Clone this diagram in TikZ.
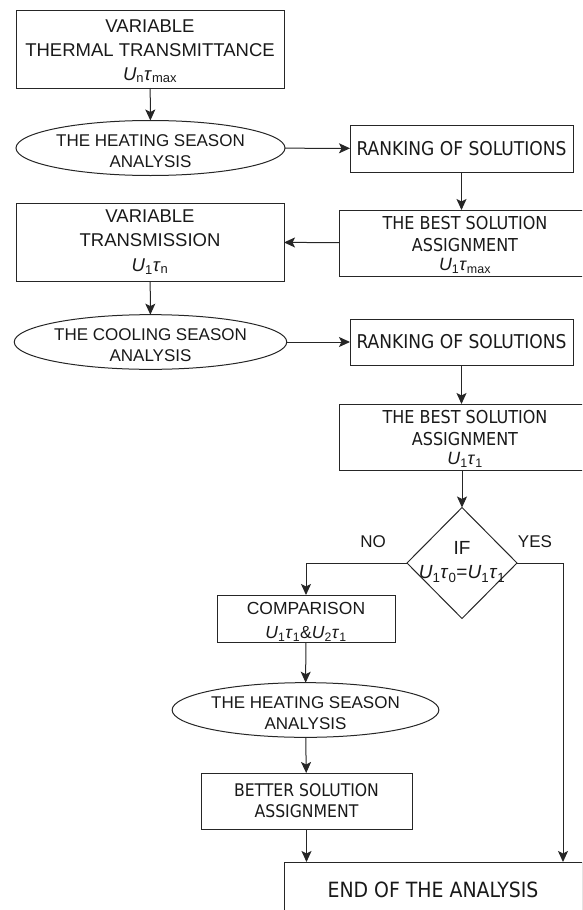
\documentclass[tikz,border=0pt]{standalone}
\usepackage{fontspec}
\setmainfont{Liberation Sans}
\newfontfamily\tah{DejaVu Sans Condensed}
\usetikzlibrary{shapes.geometric,arrows.meta,calc}
\newcommand{\ar}[2]{\fontsize{#1}{#2}\selectfont}
\newcommand{\iv}[1]{\textit{#1}}
\newcommand{\sbs}[1]{\textsubscript{#1}}
\newcommand{\lift}[1]{\rule{0pt}{#1}}
\begin{document}
\begin{tikzpicture}[x=1pt,y=-1pt,
  every node/.style={inner sep=0pt, outer sep=0pt, text=black!90},
  boxnode/.style={draw=black!85, line width=1pt, rectangle, align=center},
  ellnode/.style={draw=black!85, line width=1pt, ellipse, align=center},
  dianode/.style={draw=black!85, line width=1pt, diamond},
  conn/.style={draw=black!85, line width=1pt, -{Stealth[length=11pt,width=10pt,inset=2.5pt]}},
  lbl/.style={font=\ar{17}{20}}
]
\useasboundingbox (0,0) rectangle (582,910);
\clip (0,0) rectangle (582,910);

% boxes
\node[boxnode, minimum width=268pt, minimum height=78pt, font=\ar{18.5}{24}] (b1) at (150,49)
  {\lift{17pt}VARIABLE\\THERMAL TRANSMITTANCE\\\iv{U}\sbs{n}\iv{τ}\sbs{max}};
\node[ellnode, minimum width=269pt, minimum height=55pt, font=\ar{17}{20.5}] (e1) at (150.5,148)
  {\lift{18pt}THE HEATING SEASON\\ANALYSIS};
\node[boxnode, minimum width=223pt, minimum height=47pt, font={\tah\ar{19}{22}}] (r1) at (461.5,148.5)
  {RANKING OF SOLUTIONS};
\node[boxnode, minimum width=252pt, minimum height=66pt, font={\tah\ar{17.8}{21.5}}] (s1) at (465,243)
  {\lift{17pt}THE BEST SOLUTION\\ASSIGNMENT\\[-2pt]{\rmfamily\iv{U}\sbs{1}\iv{τ}\sbs{max}}};
\node[boxnode, minimum width=268pt, minimum height=78pt, font=\ar{18.5}{24.5}] (b2) at (150,242)
  {VARIABLE\\TRANSMISSION\\\iv{U}\sbs{1}\iv{τ}\sbs{n}};
\node[ellnode, minimum width=269pt, minimum height=54pt, font=\ar{17}{20.5}] (e2) at (150.5,342)
  {\lift{18pt}THE COOLING SEASON\\ANALYSIS};
\node[boxnode, minimum width=223pt, minimum height=46pt, font={\tah\ar{19}{22}}] (r2) at (461.5,342)
  {RANKING OF SOLUTIONS};
\node[boxnode, minimum width=252pt, minimum height=66pt, font={\tah\ar{17.8}{21.5}}] (s2) at (465,437)
  {\lift{17pt}THE BEST SOLUTION\\ASSIGNMENT\\[-2pt]{\rmfamily\iv{U}\sbs{1}\iv{τ}\sbs{1}}};
\node[dianode, minimum width=110pt, minimum height=111pt] (d) at (462,563) {};
\node[font=\ar{19}{24}, align=center] (dt) at (462,562) {IF\\\iv{U}\sbs{1}\iv{τ}\sbs{0}=\iv{U}\sbs{1}\iv{τ}\sbs{1}};
\node[lbl] (no) at (373,542) {NO};
\node[lbl] (yes) at (535,542) {YES};
\node[boxnode, minimum width=178pt, minimum height=47pt, font=\ar{17.5}{24}] (c) at (306,618.5)
  {\lift{19pt}COMPARISON\\\iv{U}\sbs{1}\iv{τ}\sbs{1}\&\iv{U}\sbs{2}\iv{τ}\sbs{1}};
\node[ellnode, minimum width=245pt, minimum height=50pt, font=\ar{17}{20.5}] (e3) at (305.5,710)
  {\lift{18pt}THE HEATING SEASON\\ANALYSIS};
\node[boxnode, minimum width=211pt, minimum height=56pt, font={\tah\ar{17.4}{21}}] (bs) at (306.5,801)
  {BETTER SOLUTION\\ASSIGNMENT};
\node[boxnode, minimum width=298pt, minimum height=56pt, font={\tah\ar{21}{24}}] (end) at (433,890)
  {END OF THE ANALYSIS};
\coordinate (yesend) at (563,862);

% connectors
\draw[conn] (b1) -- (e1);
\draw[conn] (e1) -- (r1);
\draw[conn] (r1) -- (r1 |- s1.north);
\draw[conn] (s1) -- (b2);
\draw[conn] (b2) -- (e2);
\draw[conn] (e2) -- (r2);
\draw[conn] (r2) -- (r2 |- s2.north);
\draw[conn] (s2.south -| d) -- (d.north);
\draw[conn] (d.west) -| (c.north);
\draw[conn] (d.east) -| (yesend);
\draw[conn] (c) -- (e3);
\draw[conn] (e3) -- (bs);
\draw[conn] (bs) -- (bs.south |- end.north);
\end{tikzpicture}
\end{document}
